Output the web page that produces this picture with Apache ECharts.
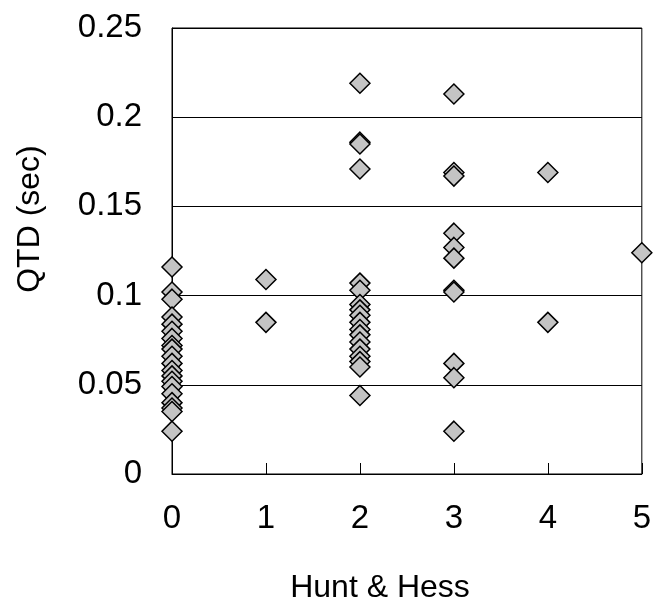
<!DOCTYPE html>
<html>
<head>
<meta charset="utf-8">
<script src="https://cdn.jsdelivr.net/npm/echarts@6/dist/echarts.min.js"></script>
<style>html,body{margin:0;padding:0;background:#fff;}#c{width:654px;height:608px;}</style>
</head>
<body>
<div id="c"></div>
<script>
// Hunt & Hess grade -> QTD (sec) values
const grade0 = [0.116, 0.102, 0.098, 0.088, 0.084, 0.080, 0.076, 0.072, 0.070, 0.066, 0.062, 0.058, 0.055, 0.052, 0.049, 0.045, 0.040, 0.037, 0.035, 0.024];
const grade1 = [0.109, 0.085];
const grade2 = [0.219, 0.186, 0.185, 0.171, 0.107, 0.103, 0.095, 0.092, 0.089, 0.085, 0.081, 0.078, 0.074, 0.070, 0.066, 0.063, 0.060, 0.044];
const grade3 = [0.213, 0.169, 0.167, 0.135, 0.127, 0.121, 0.103, 0.102, 0.062, 0.054, 0.024];
const grade4 = [0.169, 0.085];
const grade5 = [0.124];
const xTickLabels = ['0', '1', '2', '3', '4', '5'];
const yTickLabels = ['0', '0.05', '0.1', '0.15', '0.2', '0.25'];

const groups = [grade0, grade1, grade2, grade3, grade4, grade5];
const points = [];
groups.forEach((vals, g) => vals.forEach(v => points.push([g, v])));

const font = "'Liberation Sans', Arial, Helvetica, sans-serif";
const chart = echarts.init(document.getElementById('c'));
chart.setOption({
  animation: false,
  backgroundColor: '#fff',
  grid: { left: 172, right: 10.5, top: 28, bottom: 134, show: true, borderColor: '#000', borderWidth: 1, backgroundColor: 'transparent' },
  xAxis: {
    type: 'value', min: 0, max: 5, interval: 1,
    axisLine: { onZero: false, lineStyle: { color: '#000', width: 1 } },
    axisTick: { inside: true, length: 11, lineStyle: { color: '#000' } },
    splitLine: { show: false },
    axisLabel: { margin: 28, fontSize: 33, color: '#000', fontFamily: font,
      formatter: v => xTickLabels[Math.round(v)] }
  },
  yAxis: {
    type: 'value', min: 0, max: 0.25, interval: 0.05,
    axisLine: { lineStyle: { color: '#000', width: 1 } },
    axisTick: { show: false },
    splitLine: { show: true, lineStyle: { color: '#000', width: 1 } },
    axisLabel: { margin: 30, fontSize: 33, color: '#000', fontFamily: font,
      formatter: v => yTickLabels[Math.round(v / 0.05)] }
  },
  graphic: [
    { type: 'text', x: 30, y: 219, rotation: Math.PI / 2,
      style: { text: 'QTD (sec)', font: '32px ' + font, fill: '#000', textAlign: 'center', textVerticalAlign: 'middle' } },
    { type: 'text', x: 380, y: 588,
      style: { text: 'Hunt & Hess', font: '32px ' + font, fill: '#000', textAlign: 'center', textVerticalAlign: 'middle' } }
  ],
  series: [{
    type: 'scatter',
    data: points,
    symbol: 'diamond',
    symbolSize: 20,
    clip: false,
    itemStyle: { color: '#c4c4c4', borderColor: '#000', borderWidth: 1.5, opacity: 1 }
  }]
});
</script>
</body>
</html>
